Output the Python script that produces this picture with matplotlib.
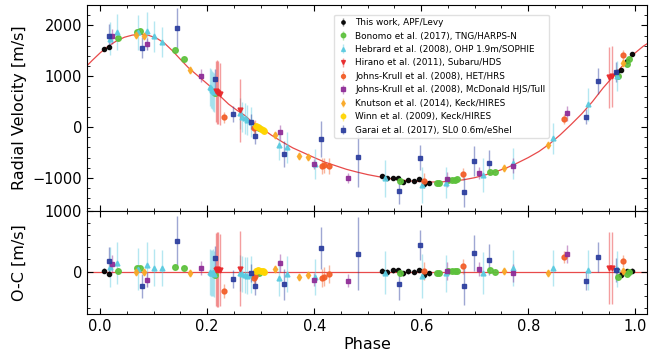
import matplotlib
matplotlib.use("Agg")
import matplotlib.pyplot as plt
from matplotlib.ticker import MultipleLocator

# model curve (phase, m/s)
model_phase = [-0.03, -0.015, 0.0, 0.015, 0.03, 0.045, 0.06, 0.075, 0.09, 0.105, 0.12,
               0.135, 0.15, 0.165, 0.18, 0.195, 0.21, 0.225, 0.24, 0.255, 0.27, 0.285,
               0.30, 0.32, 0.34, 0.36, 0.38, 0.40, 0.42, 0.44, 0.46, 0.48, 0.50, 0.52,
               0.54, 0.56, 0.58, 0.60, 0.62, 0.64, 0.66, 0.68, 0.70, 0.72, 0.74, 0.76,
               0.78, 0.80, 0.82, 0.84, 0.86, 0.88, 0.90, 0.92, 0.94, 0.96, 0.98, 1.0,
               1.015, 1.03]
model_rv = [1150, 1310, 1460, 1590, 1690, 1765, 1808, 1822, 1805, 1750, 1650,
            1500, 1330, 1165, 1030, 895, 760, 600, 450, 335, 230, 90,
            -10, -160, -290, -410, -505, -600, -690, -760, -830, -885, -935, -975,
            -1010, -1040, -1060, -1073, -1080, -1076, -1062, -1035, -995, -940, -875, -800,
            -705, -600, -480, -330, -150, 50, 260, 500, 770, 1010, 1250, 1460,
            1590, 1690]

apf_phase = [0.007, 0.017, 0.526, 0.536, 0.547, 0.556, 0.566, 0.576, 0.586, 0.596,
             0.605, 0.614, 0.966, 0.973, 0.984, 0.994]
apf_rv = [1530, 1575, -967, -1000, -1000, -1003, -1080, -1040, -1060, -1030,
          -1127, -1100, 1075, 1115, 1300, 1445]
apf_err = [40] * 16
apf_oc = [16, -38, 16, 0, 22, 27, -27, 5, -5, 27, -55, -27, 30, -50, 10, 15]

bon_phase = [0.034, 0.068, 0.075, 0.140, 0.156, 0.214, 0.297, 0.561, 0.629, 0.633,
             0.650, 0.657, 0.663, 0.667, 0.728, 0.737, 0.967, 0.984, 0.989]
bon_rv = [1745, 1870, 1880, 1510, 1340, 660, -14, -1060, -1100, -1105,
          -1040, -1040, -1035, -1025, -876, -890, 1000, 1240, 1333]
bon_err = [25] * 19
bon_oc = [5, 55, 60, 82, 60, -55, -22, -16, -20, -22, 16, 16, 14, 10, 33, 0, -82, -38, -10]

heb_phase = [0.018, 0.032, 0.070, 0.087, 0.101, 0.116, 0.205, 0.207, 0.209, 0.211,
             0.213, 0.262, 0.265, 0.270, 0.275, 0.281, 0.335, 0.350, 0.402, 0.533,
             0.601, 0.646, 0.715, 0.771, 0.846, 0.912, 0.966]
heb_rv = [1740, 1870, 1860, 1890, 1785, 1670, 790, 760, 730, 700,
          680, 268, 200, 170, 137, 104, -353, -400, -725, -1006,
          -1137, -1092, -941, -712, -222, 445, 1000]
heb_err = [330, 350, 350, 370, 300, 300, 380, 380, 380, 380,
           380, 300, 300, 300, 300, 300, 300, 300, 300, 360,
           360, 300, 340, 300, 300, 330, 300]
heb_oc = [80, 142, 40, 115, 65, 60, -10, -25, -30, -15,
          -35, -20, -40, -60, -65, -50, -104, -38, -93, -16,
          -70, -30, -22, 60, 60, 30, 40]

hir_phase = [0.216, 0.219, 0.221, 0.224, 0.262, 0.950, 0.956]
hir_rv = [700, 690, 673, 650, 333, 975, 1000]
hir_err = [600, 620, 620, 600, 620, 600, 600]
hir_oc = [30, 35, 28, 25, 45, 60, 60]

het_phase = [0.232, 0.287, 0.290, 0.414, 0.418, 0.427, 0.606, 0.678, 0.866, 0.977]
het_rv = [190, -20, 0, -765, -750, -765, -1052, -922, 157, 1410]
het_err = [110, 130, 130, 150, 150, 150, 150, 120, 100, 100]
het_oc = [-320, -100, -70, -104, -82, -38, 16, 87, 235, 180]

mcd_phase = [0.022, 0.087, 0.189, 0.336, 0.399, 0.463, 0.648, 0.708, 0.771, 0.872]
mcd_rv = [1785, 1640, 1013, -104, -732, -994, -1026, -908, -758, 268]
mcd_err = [150, 120, 120, 150, 100, 100, 150, 120, 150, 150]
mcd_oc = [126, -131, 60, 137, -131, -148, 16, 44, -22, 290]

knu_phase = [0.066, 0.082, 0.167, 0.326, 0.371, 0.388, 0.755, 0.837, 0.977]
knu_rv = [1817, 1785, 1131, -157, -562, -582, -810, -353, 1260]
knu_err = [40, 40, 40, 40, 40, 40, 40, 40, 60]
knu_oc = [-11, -11, -27, 44, -93, -49, 5, -22, 5]

win_phase = [0.291, 0.294, 0.300, 0.304, 0.307]
win_rv = [30, 10, -30, -55, -75]
win_err = [15] * 5
win_oc = [15, 25, 10, 5, 0]

gar_phase = [0.017, 0.079, 0.143, 0.214, 0.248, 0.281, 0.289, 0.343, 0.412, 0.482,
             0.558, 0.597, 0.680, 0.698, 0.727, 0.908, 0.931, 0.964]
gar_rv = [1790, 1562, 1950, 950, 255, 105, -176, -530, -235, -582,
          -1255, -602, -1281, -667, -700, 202, 902, 1085]
gar_err = [230, 200, 400, 200, 150, 150, 150, 250, 350, 600,
           250, 250, 300, 300, 250, 150, 250, 200]
gar_oc = [180, -235, 510, 218, -126, -22, -235, -213, 388, 295,
          -213, 437, -246, 306, 197, -148, 240, 30]

datasets = [
    ("This work, APF/Levy", apf_phase, apf_rv, apf_err, apf_oc, "black", "o", 3),
    ("Bonomo et al. (2017), TNG/HARPS-N", bon_phase, bon_rv, bon_err, bon_oc, "#5cc13b", "o", 4),
    ("Hebrard et al. (2008), OHP 1.9m/SOPHIE", heb_phase, heb_rv, heb_err, heb_oc, "#5bcbe0", "^", 3.5),
    ("Hirano et al. (2011), Subaru/HDS", hir_phase, hir_rv, hir_err, hir_oc, "#e8282a", "v", 3.5),
    ("Johns-Krull et al. (2008), HET/HRS", het_phase, het_rv, het_err, het_oc, "#f25c26", "o", 3.5),
    ("Johns-Krull et al. (2008), McDonald HJS/Tull", mcd_phase, mcd_rv, mcd_err, mcd_oc, "#8e2b96", "s", 3.5),
    ("Knutson et al. (2014), Keck/HIRES", knu_phase, knu_rv, knu_err, knu_oc, "#f9a825", "d", 3.5),
    ("Winn et al. (2009), Keck/HIRES", win_phase, win_rv, win_err, win_oc, "#ffd500", "o", 4),
    ("Garai et al. (2017), SL0 0.6m/eShel", gar_phase, gar_rv, gar_err, gar_oc, "#2b3d9e", "s", 3.5),
]


def style_axis(ax):
    ax.tick_params(which="both", direction="in", top=True, right=True, labelsize=10.5)
    ax.tick_params(which="major", length=4)
    ax.tick_params(which="minor", length=2.5)
    ax.xaxis.set_major_locator(MultipleLocator(0.2))
    ax.xaxis.set_minor_locator(MultipleLocator(0.05))


fig = plt.figure(figsize=(6.68, 3.56), dpi=100)
gs = fig.add_gridspec(2, 1, height_ratios=[2, 1], hspace=0,
                      left=0.130, right=0.9686, top=0.986, bottom=0.118)
ax = fig.add_subplot(gs[0])
ax_res = fig.add_subplot(gs[1], sharex=ax)

ax.plot(model_phase, model_rv, color="#e84a4a", lw=0.9, zorder=1)
ax_res.axhline(0, color="#e84a4a", lw=0.9, zorder=1)

for label, ph, rv, err, oc, color, marker, ms in datasets:
    ax.errorbar(ph, rv, yerr=err, fmt=marker, color=color, ms=ms, ecolor=color,
                elinewidth=1, capsize=0, alpha=0.9, label=label, zorder=3)
    ax_res.errorbar(ph, oc, yerr=err, fmt=marker, color=color, ms=ms, ecolor=color,
                    elinewidth=1, capsize=0, alpha=0.9, zorder=3)

for a in (ax, ax_res):
    for line in a.collections:
        line.set_alpha(0.45)

ax.set_xlim(-0.025, 1.022)
ax.set_ylim(-1650, 2400)
ax.yaxis.set_major_locator(MultipleLocator(1000))
ax.yaxis.set_minor_locator(MultipleLocator(200))
ax.set_ylabel("Radial Velocity [m/s]", fontsize=11.5)
style_axis(ax)
plt.setp(ax.get_xticklabels(), visible=False)

ax_res.set_ylim(-700, 1000)
ax_res.yaxis.set_major_locator(MultipleLocator(1000))
ax_res.yaxis.set_minor_locator(MultipleLocator(200))
ax_res.set_ylabel("O-C [m/s]", fontsize=11.5)
ax_res.set_xlabel("Phase", fontsize=11.5, labelpad=2)
style_axis(ax_res)

ax.legend(loc="upper left", bbox_to_anchor=(0.433, 0.975), fontsize=6.4, frameon=True,
          handlelength=1.2, borderpad=0.4, labelspacing=0.5, framealpha=0.9,
          edgecolor="#dddddd", markerscale=0.8)
fig.align_ylabels([ax, ax_res])

fig.savefig("out.png", dpi=100)
